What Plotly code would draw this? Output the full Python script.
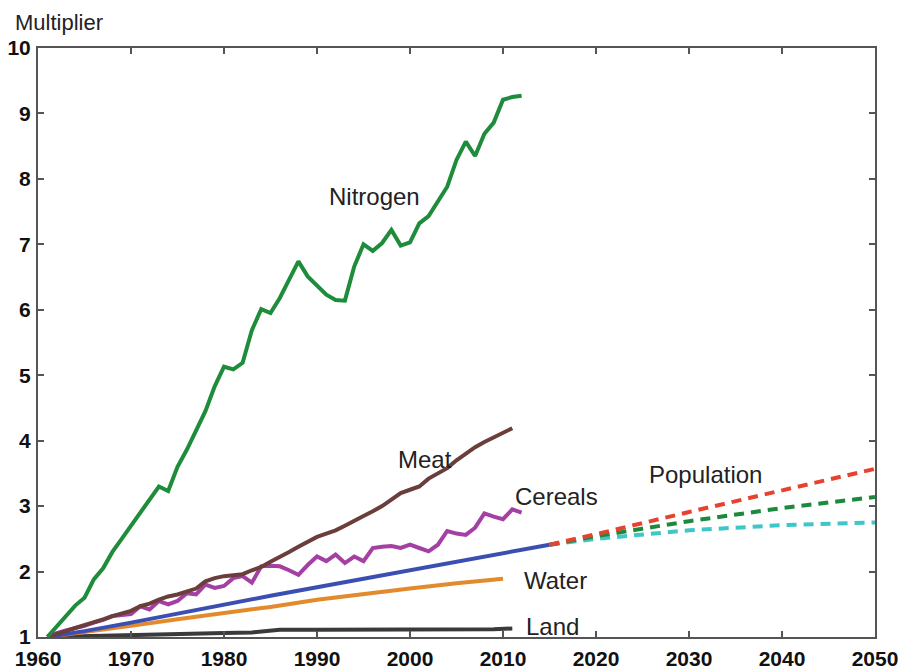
import plotly.graph_objects as go

# ---------------- data ----------------
years_annual = list(range(1961, 2013))
nitrogen = [1.00, 1.16, 1.32, 1.48, 1.60, 1.88, 2.05, 2.30, 2.50, 2.70,
            2.90, 3.10, 3.30, 3.23, 3.60, 3.86, 4.14, 4.45, 4.83, 5.13,
            5.09, 5.19, 5.69, 6.01, 5.95, 6.18, 6.46, 6.74, 6.51, 6.38,
            6.23, 6.15, 6.14, 6.66, 7.00, 6.90, 7.02, 7.22, 6.98, 7.03,
            7.32, 7.43, 7.65, 7.88, 8.29, 8.57, 8.35, 8.69, 8.86, 9.21,
            9.25, 9.27]

years_meat = list(range(1961, 2012))
meat = [1.00, 1.04, 1.09, 1.14, 1.18, 1.22, 1.27, 1.32, 1.36, 1.40,
        1.47, 1.51, 1.57, 1.62, 1.65, 1.70, 1.74, 1.85, 1.90, 1.93,
        1.94, 1.96, 2.02, 2.07, 2.15, 2.22, 2.30, 2.38, 2.45, 2.53,
        2.58, 2.63, 2.70, 2.78, 2.85, 2.92, 3.00, 3.10, 3.20, 3.25,
        3.30, 3.42, 3.50, 3.58, 3.70, 3.80, 3.90, 3.98, 4.05, 4.12,
        4.19]

years_cereals = list(range(1961, 2013))
cereals = [1.00, 1.06, 1.10, 1.13, 1.17, 1.22, 1.26, 1.32, 1.33, 1.35,
           1.47, 1.42, 1.55, 1.50, 1.55, 1.67, 1.65, 1.80, 1.75, 1.78,
           1.90, 1.93, 1.83, 2.08, 2.09, 2.08, 2.02, 1.95, 2.10, 2.23,
           2.16, 2.26, 2.13, 2.23, 2.16, 2.36, 2.38, 2.39, 2.36, 2.41,
           2.36, 2.31, 2.41, 2.62, 2.58, 2.56, 2.67, 2.89, 2.84, 2.80,
           2.95, 2.90]

years_pop = [1961, 1965, 1970, 1975, 1980, 1985, 1990, 1995, 2000, 2005, 2010, 2015]
population = [1.00, 1.09, 1.22, 1.36, 1.49, 1.63, 1.76, 1.89, 2.02, 2.15, 2.28, 2.41]

years_proj = [2015, 2020, 2030, 2040, 2050]
pop_high = [2.41, 2.57, 2.91, 3.24, 3.57]
pop_mid = [2.41, 2.54, 2.77, 2.97, 3.14]
pop_low = [2.41, 2.50, 2.63, 2.71, 2.75]

years_water = [1961, 1965, 1970, 1975, 1980, 1985, 1990, 1995, 2000, 2005, 2010]
water = [1.00, 1.07, 1.17, 1.27, 1.36, 1.46, 1.57, 1.66, 1.74, 1.82, 1.89]

years_land = [1961, 1965, 1970, 1975, 1980, 1983, 1985, 1986, 1990, 2000, 2008, 2009, 2011]
land = [1.00, 1.01, 1.02, 1.04, 1.06, 1.07, 1.10, 1.11, 1.11, 1.11, 1.11, 1.12, 1.13]

x_ticks = [1960, 1970, 1980, 1990, 2000, 2010, 2020, 2030, 2040, 2050]
y_ticks = [1, 2, 3, 4, 5, 6, 7, 8, 9, 10]

labels = ["Nitrogen", "Meat", "Cereals", "Population", "Water", "Land"]
label_x = [1996.2, 2001.6, 2015.8, 2031.8, 2015.6, 2015.3]
label_y = [7.73, 3.71, 3.15, 3.48, 1.86, 1.16]

# ---------------- figure ----------------
fig = go.Figure()

def line(x, y, color, dash="solid", width=4):
    fig.add_trace(go.Scatter(x=x, y=y, mode="lines",
                             line=dict(color=color, width=width, dash=dash),
                             hoverinfo="skip", showlegend=False))

line(years_land, land, "#3a3a3a")
line(years_water, water, "#e38a2c")
line(years_pop, population, "#3b4fb2")
line(years_proj, pop_low, "#3fc6c9", dash="10px,7px")
line(years_proj, pop_mid, "#1c8a3c", dash="10px,7px")
line(years_proj, pop_high, "#e5432f", dash="10px,7px")
line(years_cereals, cereals, "#a440a4")
line(years_meat, meat, "#6b3e3c")
line(years_annual, nitrogen, "#1e8c3b")

for t, xx, yy in zip(labels, label_x, label_y):
    fig.add_annotation(x=xx, y=yy, xref="x", yref="y", text=t, showarrow=False,
                       font=dict(family="Liberation Sans", size=24, color="#222222"),
                       xanchor="center", yanchor="middle")

fig.add_annotation(x=-0.03, y=1.044, xref="paper", yref="paper", text="Multiplier",
                   showarrow=False, xanchor="left", yanchor="middle",
                   font=dict(family="Liberation Sans", size=22, color="#222222"))

axis_common = dict(showline=True, linecolor="#555555", linewidth=2, mirror="ticks",
                   ticks="inside", ticklen=6, tickwidth=1.5, tickcolor="#555555",
                   showgrid=False, zeroline=False, automargin=False,
                   tickfont=dict(family="Liberation Sans", size=21, color="#111111",
                                 weight="bold"))

fig.update_xaxes(range=[1960, 2050], tickvals=x_ticks, ticklabelstandoff=2, **axis_common)
fig.update_yaxes(range=[1, 10], tickvals=y_ticks, ticklabelstandoff=1, **axis_common)

fig.update_layout(width=900, height=670, plot_bgcolor="white", paper_bgcolor="white",
                  margin=dict(l=38, r=25, t=48, b=33))

fig.write_html("out.html", config={"displayModeBar": False},
               post_script="document.body.style.margin='0';document.body.style.overflow='hidden';")
